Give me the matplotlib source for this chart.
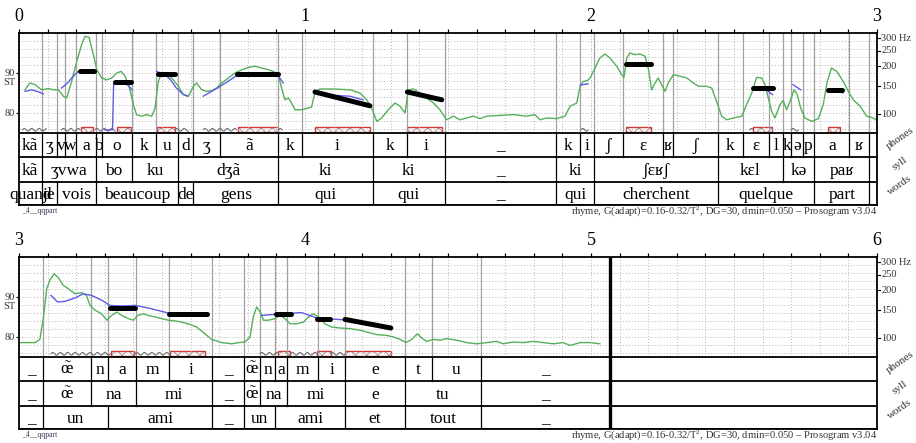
import numpy as np
import matplotlib
matplotlib.use("Agg")
import matplotlib.pyplot as plt
from matplotlib.patches import Rectangle

plt.rcParams['font.family'] = ['Liberation Serif', 'DejaVu Serif']
plt.rcParams['mathtext.fontset'] = 'custom'
plt.rcParams['mathtext.rm'] = 'Liberation Serif'
plt.rcParams['mathtext.it'] = 'Liberation Serif:italic'
plt.rcParams['hatch.linewidth'] = 0.6

# ---------------- panel 1 : 0 - 3 s ----------------
p1_phone_bounds = [0, 0.079, 0.132, 0.161, 0.199, 0.268, 0.289, 0.394, 0.479, 0.557, 0.609,
                   0.703, 0.907, 0.988, 1.237, 1.356, 1.489, 1.878, 1.962, 2.012, 2.111,
                   2.251, 2.286, 2.443, 2.530, 2.624, 2.670, 2.699, 2.740, 2.781, 2.903,
                   2.973, 3.0]
p1_phones = ["kã", "ʒ", "v", "w", "a", "b", "o", "k", "u", "d",
             "ʒ", "ã", "k", "i", "k", "i", "_", "k", "i", "ʃ",
             "ɛ", "ʁ", "ʃ", "k", "ɛ", "l", "k", "ə", "p", "a",
             "ʁ", ""]
p1_syll_bounds = [0, 0.079, 0.268, 0.394, 0.557, 0.907, 1.237, 1.489, 1.878, 2.012,
                  2.443, 2.670, 2.781, 2.973, 3.0]
p1_sylls = ["kã", "ʒvwa", "bo", "ku", "dʒã", "ki", "ki", "_", "ki", "ʃɛʁʃ",
            "kɛl", "kə", "paʁ", ""]
p1_word_bounds = [0, 0.079, 0.132, 0.268, 0.557, 0.609, 0.907, 1.237, 1.489, 1.878,
                  2.012, 2.443, 2.781, 2.973, 3.0]
p1_words = ["quand", "je", "vois", "beaucoup", "de", "gens", "qui", "qui", "_", "qui",
            "cherchent", "quelque", "part", ""]

p1_f0_t = [0.021, 0.038, 0.056, 0.079, 0.103, 0.120, 0.138, 0.155, 0.167, 0.184,
           0.202, 0.219, 0.231, 0.245, 0.260, 0.272, 0.289, 0.307, 0.324, 0.342,
           0.357, 0.371, 0.388, 0.400, 0.411, 0.429, 0.446, 0.464, 0.476, 0.487,
           0.499, 0.516, 0.534, 0.557, 0.575, 0.592, 0.610, 0.621, 0.639, 0.656,
           0.674, 0.691, 0.709, 0.732, 0.755, 0.779, 0.802, 0.825, 0.849, 0.872,
           0.889, 0.907, 0.918, 0.930, 0.942, 0.953, 0.965, 0.988, 1.012, 1.023,
           1.035, 1.052, 1.099, 1.157, 1.192, 1.216, 1.233, 1.251, 1.268, 1.291,
           1.315, 1.332, 1.350, 1.361, 1.379, 1.402, 1.425, 1.449, 1.472, 1.495,
           1.519, 1.542, 1.565, 1.589, 1.612, 1.635, 1.682, 1.728, 1.775, 1.804,
           1.822, 1.845, 1.880, 1.909, 1.927, 1.950, 1.962, 1.973, 1.987, 1.997,
           2.014, 2.031, 2.049, 2.066, 2.090, 2.107, 2.115, 2.125, 2.136, 2.154,
           2.171, 2.189, 2.200, 2.212, 2.224, 2.235, 2.247, 2.259, 2.270, 2.288,
           2.311, 2.335, 2.358, 2.375, 2.404, 2.422, 2.439, 2.457, 2.474, 2.498,
           2.527, 2.544, 2.562, 2.579, 2.597, 2.608, 2.620, 2.632, 2.643, 2.661,
           2.672, 2.684, 2.696, 2.710, 2.721, 2.733, 2.748, 2.772, 2.795, 2.812,
           2.826, 2.841, 2.859, 2.882, 2.900, 2.917, 2.941, 2.964, 2.987, 3.000]
p1_f0_st = [85.8, 87.5, 87.1, 85.8, 86.1, 85.8, 85.8, 84.2, 83.75, 87.9,
            92.9, 97.1, 99.2, 98.9, 94.6, 90.8, 88.75, 88.3, 88.75, 90.0,
            90.4, 89.2, 85.8, 82.1, 79.6, 79.2, 79.6, 79.2, 81.25, 87.9,
            90.0, 89.6, 88.75, 86.7, 84.6, 84.2, 86.7, 87.5, 85.8, 85.4,
            85.6, 86.25, 87.5, 88.75, 90.0, 90.8, 91.4, 91.7, 91.25, 90.8,
            90.4, 89.6, 86.25, 83.3, 83.75, 82.5, 80.8, 80.8, 81.25, 81.5,
            85.25, 86.0, 86.0, 85.8, 85.0, 83.3, 81.25, 77.9, 78.75, 80.8,
            82.5, 81.7, 80.0, 85.8, 86.0, 85.0, 83.75, 82.5, 80.8, 78.3,
            79.2, 78.3, 78.75, 79.2, 78.6, 79.2, 79.4, 79.6, 79.2, 79.6,
            78.3, 78.75, 78.6, 79.2, 81.7, 82.5, 86.7, 87.9, 88.1, 88.75,
            91.25, 93.75, 94.75, 93.75, 91.7, 89.6, 88.9, 93.75, 95.0, 94.6,
            94.75, 94.2, 91.25, 85.8, 87.5, 88.75, 87.1, 85.4, 87.5, 89.6,
            89.2, 88.75, 87.5, 86.7, 86.7, 86.25, 82.9, 79.2, 78.3, 78.75,
            79.2, 82.1, 85.0, 88.9, 88.75, 87.1, 83.75, 80.4, 78.75, 82.1,
            83.1, 80.8, 82.9, 85.8, 84.6, 81.25, 78.75, 77.9, 78.6, 82.1,
            87.9, 91.25, 90.4, 87.9, 85.4, 83.3, 81.7, 79.2, 78.75, 78.2]

p1_blue = [
    ([0.021, 0.044, 0.068, 0.085], [85.4, 85.8, 85.3, 84.8]),
    ([0.149, 0.170, 0.184, 0.207], [86.25, 87.5, 88.75, 90.4]),
    ([0.300, 0.327, 0.331, 0.360, 0.385, 0.394], [75.8, 75.8, 87.5, 87.6, 86.8, 85.8]),
    ([0.481, 0.510, 0.530, 0.550, 0.575, 0.590], [90.4, 89.6, 88.3, 86.25, 84.6, 84.2]),
    ([0.644, 0.700, 0.767, 0.850, 0.900, 0.924], [84.2, 86.5, 89.6, 90.0, 90.0, 87.5]),
    ([1.060, 1.100, 1.157, 1.203], [84.6, 84.4, 84.2, 83.3]),
    ([1.962, 1.990], [87.0, 87.3]),
    ([2.615, 2.635], [85.6, 84.6]),
    ([2.706, 2.733], [87.1, 85.8]),
    ([2.860, 2.880], [85.8, 85.0]),
]

p1_nuc_t0 = [0.213, 0.336, 0.485, 0.761, 1.035, 1.358, 2.122, 2.567, 2.830]
p1_nuc_t1 = [0.263, 0.392, 0.545, 0.907, 1.227, 1.478, 2.210, 2.635, 2.877]
p1_nuc_s0 = [90.6, 87.7, 89.75, 89.75, 85.25, 85.25, 92.3, 86.25, 85.8]
p1_nuc_s1 = [90.6, 87.7, 89.75, 89.75, 81.8, 83.3, 92.3, 86.25, 85.8]

p1_box_t0 = [0.216, 0.344, 0.481, 0.765, 1.035, 1.355, 2.122, 2.567, 2.830]
p1_box_t1 = [0.260, 0.390, 0.545, 0.907, 1.227, 1.478, 2.210, 2.632, 2.870]

p1_wave = [(0.012, 0.094), (0.149, 0.213), (0.266, 0.336), (0.545, 0.592),
           (0.644, 0.761), (0.907, 0.920), (1.965, 1.990), (2.555, 2.567), (2.700, 2.725)]

# ---------------- panel 2 : 3 - 6 s ----------------
OE_NASAL = r'$\tilde{\mathrm{œ}}$'
p2_phone_bounds = [3.0, 3.085, 3.251, 3.312, 3.409, 3.526, 3.674, 3.788, 3.843, 3.895,
                   3.938, 4.047, 4.140, 4.350, 4.443, 4.615, 5.066]
p2_phones = ["_", OE_NASAL, "n", "a", "m", "i", "_", OE_NASAL, "n", "a", "m", "i",
             "e", "t", "u", "_"]
p2_syll_bounds = [3.0, 3.085, 3.251, 3.409, 3.674, 3.788, 3.843, 3.938, 4.140, 4.350,
                  4.615, 5.066]
p2_sylls = ["_", OE_NASAL, "na", "mi", "_", OE_NASAL, "na", "mi", "e", "tu", "_"]
p2_word_bounds = [3.0, 3.085, 3.312, 3.674, 3.788, 3.895, 4.140, 4.350, 4.615, 5.066]
p2_words = ["_", "un", "ami", "_", "un", "ami", "et", "tout", "_"]

p2_f0_t = [3.000, 3.021, 3.056, 3.073, 3.085, 3.097, 3.108, 3.123, 3.138, 3.155,
           3.172, 3.196, 3.219, 3.236, 3.248, 3.266, 3.289, 3.307, 3.324, 3.342,
           3.359, 3.382, 3.400, 3.415, 3.435, 3.452, 3.476, 3.499, 3.522, 3.557,
           3.592, 3.621, 3.650, 3.674, 3.709, 3.744, 3.767, 3.790, 3.808, 3.819,
           3.831, 3.843, 3.855, 3.872, 3.895, 3.913, 3.930, 3.948, 3.971, 3.995,
           4.012, 4.029, 4.047, 4.070, 4.093, 4.122, 4.157, 4.192, 4.216, 4.251,
           4.286, 4.309, 4.332, 4.353, 4.373, 4.393, 4.408, 4.425, 4.449, 4.472,
           4.495, 4.530, 4.565, 4.600, 4.635, 4.670, 4.693, 4.728, 4.763, 4.798,
           4.833, 4.868, 4.903, 4.927, 4.962, 4.997, 5.031]
p2_f0_st = [78.6, 78.6, 78.6, 79.4, 84.6, 92.1, 94.2, 95.8, 94.75, 92.9,
            92.1, 90.8, 91.1, 90.4, 87.9, 86.7, 85.8, 84.2, 85.4, 86.25,
            85.4, 84.6, 84.2, 85.4, 85.8, 85.4, 85.0, 84.6, 84.2, 83.9,
            83.3, 82.5, 80.8, 79.4, 78.6, 78.3, 78.6, 78.75, 80.0, 85.0,
            87.5, 86.25, 84.2, 84.2, 84.6, 85.4, 84.6, 83.3, 83.3, 83.75,
            85.0, 85.8, 85.0, 83.3, 82.5, 82.25, 82.1, 81.7, 81.25, 80.6,
            80.4, 80.0, 79.4, 78.6, 79.4, 80.8, 79.75, 78.9, 79.4, 79.2,
            79.6, 79.2, 78.6, 78.3, 78.6, 78.9, 78.3, 78.75, 78.6, 78.9,
            78.6, 78.3, 78.6, 77.9, 78.6, 78.6, 78.3]

p2_blue = [
    ([3.112, 3.135, 3.160, 3.196, 3.224, 3.254, 3.289, 3.318, 3.359, 3.406, 3.452,
      3.499, 3.534, 3.656],
     [90.4, 88.75, 88.9, 89.75, 90.8, 90.4, 89.2, 87.9, 87.75, 87.9, 87.25,
      86.4, 85.8, 85.8]),
    ([3.848, 3.918, 3.988, 4.041, 4.135, 4.300], [85.4, 85.8, 86.1, 84.75, 84.3, 82.3]),
]

p2_nuc_t0 = [3.318, 3.524, 3.899, 4.041, 4.140]
p2_nuc_t1 = [3.406, 3.656, 3.951, 4.087, 4.300]
p2_nuc_s0 = [87.3, 85.8, 85.8, 84.4, 84.4]
p2_nuc_s1 = [87.3, 85.8, 85.8, 84.4, 82.25]

p2_box_t0 = [3.320, 3.527, 3.905, 4.043, 4.140]
p2_box_t1 = [3.403, 3.652, 3.949, 4.090, 4.300]

p2_wave = [(3.112, 3.318), (3.406, 3.527), (3.843, 3.905), (3.950, 4.043), (4.090, 4.140)]
p2_signal_end = 5.066

hz_ticks = [300, 250, 200, 150, 100]

# tier limits in the semitone scale of the plot
F0_LO, F0_HI = 75, 100
TIERS = [75, 69, 62.75, 57]
LABEL_FS = 12.5


def st(hz):
    return 12 * np.log2(hz)


def draw_tier(ax, bounds, labels, top, bot):
    ax.hlines(bot, bounds[0], ax.get_xlim()[1], color='black', lw=1.3)
    for b in bounds[1:-1]:
        ax.plot([b, b], [bot, top], color='black', lw=0.9)
    if bounds[-1] < ax.get_xlim()[1] - 0.01:
        ax.plot([bounds[-1], bounds[-1]], [bot, top], color='black', lw=0.9)
    for a, b, lab in zip(bounds[:-1], bounds[1:], labels):
        ax.text((a + b) / 2, (top + bot) / 2 - 0.3, lab, ha='center', va='center',
                fontsize=LABEL_FS, color='black')


def draw_panel(ax, t0, phone_b, phones, syll_b, sylls, word_b, words,
               f0_t, f0_st, blue, n_t0, n_t1, n_s0, n_s1, b_t0, b_t1, waves):
    ax.set_xlim(t0, t0 + 3)
    ax.set_ylim(TIERS[-1], F0_HI)

    # dotted grid in the F0 area
    for t in np.arange(t0, t0 + 3.001, 0.1):
        ax.plot([t, t], [F0_LO, F0_HI], ls=(0, (1, 2)), color='#b8b8b8', lw=0.7)
    for s in range(76, 100, 2):
        ax.plot([t0, t0 + 3], [s, s], ls=(0, (1, 2)), color='#b8b8b8', lw=0.7)

    # phone boundaries in the F0 area
    for b in phone_b[1:-1]:
        ax.plot([b, b], [F0_LO, F0_HI], color='#a0a0a0', lw=0.9)

    # wavy markers and nucleus boxes
    for a, b in waves:
        xs = np.linspace(a, b, max(int((b - a) / 0.0035), 4))
        ys = 75.8 + 0.35 * np.sin((xs - a) / 0.026 * 2 * np.pi)
        ax.plot(xs, ys, color='#707070', lw=0.8)
    for a, b in zip(b_t0, b_t1):
        ax.add_patch(Rectangle((a, 75.3), b - a, 1.1, facecolor='white',
                               edgecolor='#909090', hatch='xxx', lw=0))
        ax.add_patch(Rectangle((a, 75.3), b - a, 1.1, facecolor='none',
                               edgecolor='#d03838', lw=1.0))

    ax.plot(f0_t, f0_st, color='#55b05a', lw=1.0)
    for bt, bs in blue:
        ax.plot(bt, bs, color='#5c5ce8', lw=1.0)
    for a, b, s0, s1 in zip(n_t0, n_t1, n_s0, n_s1):
        ax.plot([a, b], [s0, s1], color='black', lw=3.6, solid_capstyle='round')

    # tiers
    ax.hlines(F0_LO, t0, t0 + 3, color='black', lw=1.3)
    draw_tier(ax, phone_b, phones, TIERS[0], TIERS[1])
    draw_tier(ax, syll_b, sylls, TIERS[1], TIERS[2])
    draw_tier(ax, word_b, words, TIERS[2], TIERS[3])

    # axes decoration
    for sp in ax.spines.values():
        sp.set_linewidth(1.3)
    ax.xaxis.set_ticks_position('top')
    ax.set_xticks(np.arange(t0, t0 + 3.01, 1))
    ax.set_xticklabels([str(int(t)) for t in np.arange(t0, t0 + 3.01, 1)], fontsize=13)
    ax.set_xticks(np.arange(t0, t0 + 3.01, 0.1), minor=True)
    ax.tick_params(axis='x', which='both', direction='out', length=3, width=0.9, pad=3)
    ax.set_yticks([80, 90])
    ax.set_yticklabels(['80', '90'], fontsize=7.5, color='#333333')
    ax.tick_params(axis='y', direction='out', length=2, width=0.8, pad=1)
    ax.text(-0.004, 87.7, 'ST', transform=ax.get_yaxis_transform(), ha='right',
            va='center', fontsize=7.5, color='#333333')

    yt = ax.get_yaxis_transform()
    for hz in hz_ticks:
        ax.plot([1.0, 1.004], [st(hz), st(hz)], color='black', lw=0.8,
                transform=yt, clip_on=False)
        lab = f'{hz} Hz' if hz == hz_ticks[0] else str(hz)
        ax.text(1.005, st(hz), lab, transform=yt, ha='left', va='center',
                fontsize=7.5, color='#333333')
    for lab, yy in [('phones', 73.6), ('syll', 67.4), ('words', 62.0)]:
        ax.text(1.027, yy, lab, transform=yt, ha='center', va='center',
                rotation=35, fontsize=8, color='#333333')

    ax.text(t0 + 0.01, 55.4, '_4__qqpart', ha='left', va='center', fontsize=5.5,
            color='#333355')
    ax.text(t0 + 3, 55.4, 'rhyme, G(adapt)=0.16-0.32/T$^2$, DG=30, dmin=0.050 \u2013 Prosogram v3.04',
            ha='right', va='center', fontsize=7.6, color='#333333')


fig = plt.figure(figsize=(9.16, 4.43), dpi=100)
W, H = 916, 443
left = 19 / W
width = (877 - 19) / W
ax1 = fig.add_axes([left, 1 - 205 / H, width, 172 / H])
ax2 = fig.add_axes([left, 1 - 429 / H, width, 172 / H])

draw_panel(ax1, 0, p1_phone_bounds, p1_phones, p1_syll_bounds, p1_sylls,
           p1_word_bounds, p1_words, p1_f0_t, p1_f0_st, p1_blue,
           p1_nuc_t0, p1_nuc_t1, p1_nuc_s0, p1_nuc_s1, p1_box_t0, p1_box_t1, p1_wave)
draw_panel(ax2, 3, p2_phone_bounds, p2_phones, p2_syll_bounds, p2_sylls,
           p2_word_bounds, p2_words, p2_f0_t, p2_f0_st, p2_blue,
           p2_nuc_t0, p2_nuc_t1, p2_nuc_s0, p2_nuc_s1, p2_box_t0, p2_box_t1, p2_wave)

# end of signal in the second panel
ax2.plot([p2_signal_end, p2_signal_end], [TIERS[-1], F0_HI], color='black', lw=2.4)

fig.savefig('out.png', dpi=100)
